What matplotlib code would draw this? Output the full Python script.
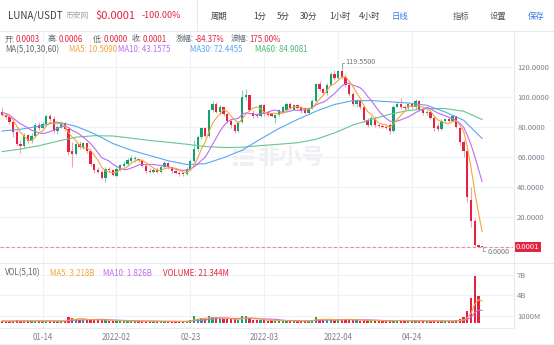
import numpy as np
import pandas as pd
import matplotlib
matplotlib.use("Agg")
import matplotlib.pyplot as plt
from matplotlib.patches import Rectangle, FancyBboxPatch

plt.rcParams['font.family'] = ['Noto Sans CJK SC', 'DejaVu Sans']

W, H = 554, 345

# ---------------- data ----------------
dates = pd.date_range('2022-01-03', '2022-05-13', freq='D')

opens = [90.0, 88.0, 86.5, 83.0, 76.5, 68.5, 67.0, 74.5, 70.5, 74.0,
         81.0, 79.5, 82.0, 87.0, 85.5, 77.0, 80.0, 82.5, 78.5, 64.0,
         62.0, 68.5, 66.5, 69.0, 64.0, 55.0, 51.5, 50.0, 46.0, 52.0,
         51.0, 47.5, 51.5, 54.0, 55.0, 57.5, 58.5, 58.5, 58.0, 54.0,
         50.5, 50.0, 51.5, 50.0, 53.5, 56.0, 53.0, 50.5, 49.5, 49.0,
         48.5, 52.0, 57.5, 65.5, 73.0, 79.0, 74.0, 91.0, 95.5, 90.0,
         93.0, 88.5, 84.0, 81.0, 77.5, 83.0, 100.0, 101.5, 89.5, 88.0,
         87.0, 94.5, 90.0, 89.0, 86.0, 88.0, 89.5, 91.5, 95.5, 91.5,
         94.5, 93.5, 92.5, 89.5, 92.5, 97.5, 108.5, 105.0, 102.5, 108.0,
         115.5, 112.5, 117.0, 113.5, 108.0, 102.0, 95.0, 97.0, 93.0, 84.5,
         81.5, 86.0, 81.0, 80.5, 80.0, 81.5, 77.0, 93.5, 95.5, 93.0,
         92.5, 95.0, 93.0, 97.0, 91.5, 89.0, 90.0, 86.0, 80.5, 78.5,
         84.0, 85.0, 84.0, 87.0, 79.0, 70.0, 64.0, 31.0, 17.0, 1.0,
         0.0003]
highs = [93.5, 89.0, 87.5, 84.0, 78.0, 71.0, 76.0, 75.5, 76.0, 82.5,
         83.0, 83.5, 88.5, 88.5, 87.0, 81.5, 84.0, 83.0, 79.0, 70.0,
         69.5, 70.5, 70.0, 69.5, 64.5, 56.0, 53.0, 51.5, 53.0, 53.5,
         52.0, 53.0, 55.5, 57.0, 59.0, 61.0, 60.5, 59.5, 58.5, 55.0,
         52.5, 52.5, 53.0, 54.5, 57.5, 56.5, 53.5, 51.0, 50.5, 50.0,
         53.0, 58.5, 71.0, 74.5, 80.0, 80.0, 92.0, 97.0, 96.5, 94.5,
         93.5, 89.0, 85.0, 82.0, 84.0, 104.5, 105.0, 102.0, 91.5, 89.0,
         95.5, 95.5, 90.5, 89.5, 88.5, 92.0, 94.0, 96.5, 96.5, 95.5,
         95.0, 94.0, 93.0, 93.5, 98.5, 109.5, 110.5, 106.0, 109.0, 116.5,
         118.0, 118.0, 119.55, 115.5, 109.0, 103.0, 98.5, 97.5, 94.0, 86.0,
         87.5, 87.0, 82.0, 81.5, 81.0, 82.5, 94.5, 96.5, 99.0, 94.5,
         96.0, 96.0, 98.5, 98.0, 92.5, 91.0, 91.0, 87.0, 82.5, 85.0,
         86.0, 86.5, 88.0, 87.5, 80.0, 71.5, 64.5, 40.0, 19.5, 1.5,
         0.0006]
lows = [87.0, 85.5, 82.0, 73.5, 67.0, 62.5, 66.0, 69.0, 69.5, 73.0,
        78.0, 78.5, 80.5, 84.0, 76.0, 75.5, 79.0, 77.5, 61.0, 53.0,
        61.0, 65.0, 65.5, 62.5, 54.0, 49.5, 49.0, 45.0, 43.5, 50.0,
        47.0, 46.5, 50.5, 53.0, 54.0, 56.5, 56.5, 56.5, 53.0, 49.5,
        49.0, 49.0, 49.5, 49.5, 52.5, 52.0, 49.5, 48.5, 47.5, 47.0,
        48.0, 51.0, 56.5, 64.0, 72.0, 73.0, 73.0, 90.0, 89.0, 88.5,
        87.5, 82.5, 79.5, 76.0, 76.5, 82.5, 98.0, 90.5, 86.0, 86.0,
        86.5, 87.5, 87.5, 86.5, 82.5, 87.0, 89.0, 91.0, 92.0, 91.0,
        92.0, 89.5, 88.5, 88.5, 92.0, 96.5, 104.0, 101.0, 101.0, 107.0,
        111.5, 111.5, 112.0, 106.5, 100.5, 94.0, 93.0, 92.0, 83.5, 80.0,
        80.5, 80.0, 79.5, 79.0, 78.5, 75.5, 76.5, 93.0, 92.0, 91.5,
        91.5, 92.5, 92.0, 90.5, 88.0, 88.0, 85.0, 77.0, 77.5, 78.0,
        83.0, 83.0, 83.0, 79.0, 68.0, 60.0, 30.0, 13.5, 0.8, 0.0,
        0.0]
closes = [88.0, 86.5, 83.0, 76.5, 68.5, 67.0, 74.5, 70.5, 74.0, 81.0,
          79.5, 82.0, 87.0, 85.5, 77.0, 80.0, 82.5, 78.5, 63.5, 62.0,
          68.5, 66.5, 69.0, 64.0, 55.0, 51.0, 50.0, 46.0, 52.0, 51.0,
          48.0, 52.0, 54.5, 55.5, 58.0, 59.5, 59.0, 58.0, 54.0, 50.5,
          50.0, 51.5, 50.0, 53.5, 56.0, 53.0, 50.5, 49.5, 48.5, 48.5,
          52.0, 57.5, 65.5, 73.0, 79.0, 74.0, 91.0, 95.5, 90.0, 93.0,
          88.5, 84.0, 81.0, 77.5, 83.0, 100.0, 101.5, 91.5, 87.0, 87.0,
          94.5, 88.5, 88.0, 87.0, 88.0, 91.0, 93.5, 95.5, 92.5, 94.5,
          92.5, 90.5, 89.5, 92.5, 97.5, 108.5, 105.0, 102.5, 108.0, 115.5,
          112.5, 117.0, 113.5, 108.0, 102.0, 95.0, 97.0, 93.0, 84.5, 81.5,
          86.0, 81.0, 80.5, 80.0, 79.5, 77.0, 93.5, 95.5, 93.0, 92.5,
          95.0, 93.5, 97.0, 91.5, 89.5, 90.0, 86.0, 79.5, 78.5, 84.0,
          85.0, 84.0, 87.0, 80.0, 70.0, 64.0, 33.5, 17.0, 1.0, 0.01,
          0.0001]
# volume in billions
volumes = [0.25, 0.2, 0.25, 0.3, 0.35, 0.3, 0.3, 0.25, 0.25, 0.3,
           0.25, 0.2, 0.3, 0.25, 0.3, 0.25, 0.2, 0.25, 0.9, 0.75,
           0.55, 0.45, 0.4, 0.4, 0.5, 0.45, 0.35, 0.4, 0.45, 0.3,
           0.3, 0.3, 0.25, 0.25, 0.3, 0.25, 0.2, 0.2, 0.25, 0.3,
           0.2, 0.2, 0.2, 0.2, 0.25, 0.2, 0.2, 0.15, 0.15, 0.2,
           0.3, 0.45, 1.0, 0.6, 0.65, 0.5, 0.95, 0.85, 0.8, 0.6,
           0.55, 0.5, 0.5, 0.55, 0.45, 0.95, 1.0, 0.65, 0.4, 0.35,
           0.45, 0.4, 0.3, 0.35, 0.3, 0.3, 0.3, 0.3, 0.25, 0.25,
           0.25, 0.25, 0.3, 0.3, 0.4, 0.9, 0.5, 0.35, 0.4, 0.45,
           0.4, 0.4, 0.45, 0.6, 0.45, 0.4, 0.35, 0.3, 0.45, 0.35,
           0.3, 0.3, 0.25, 0.2, 0.25, 0.4, 0.45, 0.3, 0.3, 0.25,
           0.25, 0.25, 0.35, 0.3, 0.25, 0.2, 0.25, 0.35, 0.3, 0.25,
           0.2, 0.25, 0.3, 0.4, 0.5, 0.8, 1.7, 3.6, 6.85, 3.9,
           0.021344]
# closes / volumes of the 9 days before the window (for MA5 / MA10)
prior_closes = [92.0, 95.0, 95.0, 89.0, 86.0, 87.0, 86.0, 88.5, 90.0]
prior_volumes = [0.3, 0.35, 0.3, 0.3, 0.25, 0.25, 0.2, 0.2, 0.25]

# MA30 / MA60 every 5 days
ma_idx = list(range(0, 131, 5))
ma30_vals = [77.3, 78.5, 80.5, 83.3, 80.5, 75.5, 69.0, 64.5, 61.0, 57.5,
             55.0, 55.5, 59.5, 64.5, 72.0, 79.0, 85.0, 90.5, 95.0, 97.6,
             97.6, 96.8, 96.0, 94.5, 90.0, 84.5, 72.4]
ma60_vals = [63.6, 65.3, 67.5, 70.5, 73.2, 74.2, 74.0, 72.6, 71.0, 69.8,
             68.5, 67.0, 66.3, 66.5, 67.6, 68.5, 69.5, 71.8, 76.0, 81.3,
             85.0, 88.5, 91.0, 92.2, 92.3, 90.5, 85.0]

price_ticks = [0, 20, 40, 60, 80, 100, 120]
price_labels = ['', '20.0000', '40.0000', '60.0000', '80.0000', '100.0000', '120.0000']
vol_ticks = [1, 4, 7]
vol_labels = ['1000M', '4B', '7B']
date_ticks = ['2022-01-14', '2022-02-03', '2022-02-23', '2022-03-15', '2022-04-04', '2022-04-24']
date_labels = ['01-14', '2022-02', '02-23', '2022-03', '2022-04', '04-24']

# ---------------- style ----------------
UP, DOWN = '#15A06D', '#E3233F'
UP_W, DOWN_W = '#8FD3B9', '#F2A1AC'
C_MA5, C_MA10, C_MA30, C_MA60 = '#F9A33B', '#BD6CF0', '#58A7F5', '#66C690'
GRID = '#EEF1F6'
AX_TXT = '#7A828E'
SEP = '#E6EAF0'


def fx(x):
    return x / W


def fy(y):
    return 1 - y / H


fig = plt.figure(figsize=(W / 100, H / 100), dpi=100, facecolor='white')

# pane geometry in pixels
PL, PR = 0, 513
MT, MB = 31, 263
VB = 327.7

ax = fig.add_axes([fx(PL), fy(MB), fx(PR - PL), (MB - MT) / H])
axv = fig.add_axes([fx(PL), fy(VB), fx(PR - PL), (VB - MB) / H], sharex=ax)

x = np.arange(len(closes))
o, h, l, c = map(np.array, (opens, highs, lows, closes))
v = np.array(volumes)
up = c >= o
body_col = np.where(up, UP, DOWN)
wick_col = np.where(up, UP_W, DOWN_W)

for a in (ax, axv):
    a.set_facecolor('none')
    for s in a.spines.values():
        s.set_visible(False)
    a.tick_params(length=0, labelleft=False, labelbottom=False)
    a.grid(True, color=GRID, lw=0.8, zorder=0)
    a.set_axisbelow(True)

tick_pos = dates.get_indexer(pd.to_datetime(date_ticks))
ax.set_xticks(tick_pos)
ax.set_xlim(-0.542, 138.37)

# main pane
ax.set_ylim(-10.67, 144.0)
ax.set_yticks(price_ticks)
ax.set_yticklabels(price_labels)
ax.yaxis.tick_right()
ax.tick_params(axis='y', labelright=True, labelleft=False, pad=3, labelsize=5.5, labelcolor=AX_TXT)

ax.vlines(x, l, h, colors=wick_col, lw=0.8, zorder=2)
ax.bar(x, np.maximum(np.abs(c - o), 0.4), bottom=np.minimum(o, c), width=0.62,
       color=body_col, linewidth=0, zorder=3)

ma5 = pd.Series(prior_closes + closes).rolling(5).mean().to_numpy()[len(prior_closes):]
ma10 = pd.Series(prior_closes + closes).rolling(10).mean().to_numpy()[len(prior_closes):]
ax.plot(ma_idx, ma60_vals, color=C_MA60, lw=0.8, zorder=4)
ax.plot(ma_idx, ma30_vals, color=C_MA30, lw=0.8, zorder=4)
ax.plot(x, ma10, color=C_MA10, lw=0.8, zorder=4)
ax.plot(x, ma5, color=C_MA5, lw=0.8, zorder=4)

# last price dashed line
ax.axhline(closes[-1], color='#EE8A9A', lw=0.8, ls=(0, (3, 2)), zorder=5)

# high / low markers
ih = int(np.argmax(h))
ax.plot([ih, ih, ih + 0.6], [h[ih], h[ih] + 3.0, h[ih] + 3.0], color='#8D949E', lw=0.6, zorder=6)
ax.text(ih + 0.9, h[ih] + 3.6, f'{h[ih]:.4f}', fontsize=5.2, color='#6F7781', va='center', ha='left', zorder=6)
il = len(l) - 1
ax.plot([il + 0.2, il + 0.2, il + 0.8], [l[il] - 0.3, l[il] - 3.0, l[il] - 3.0], color='#8D949E', lw=0.6, zorder=6)
ax.text(il + 1.4, l[il] - 3.4, f'{l[il]:.4f}', fontsize=5.2, color='#6F7781', va='center', ha='left', zorder=6)

# watermark
WM = '#EEF0F4'
ax.text(fx(258), fy(157), '非小号', transform=fig.transFigure, fontsize=16, color=WM,
        ha='left', va='center', zorder=1, fontweight='bold')
for yy in [151, 157.5, 164]:
    ax.add_patch(FancyBboxPatch((fx(233), fy(yy + 2)), fx(5), 4 / H, boxstyle='round,pad=0,rounding_size=0.003',
                                transform=fig.transFigure, color=WM, lw=0, zorder=1))
    ax.add_patch(FancyBboxPatch((fx(240), fy(yy + 2)), fx(14), 4 / H, boxstyle='round,pad=0,rounding_size=0.003',
                                transform=fig.transFigure, color=WM, lw=0, zorder=1))

# volume pane
axv.set_ylim(-0.72, 8.76)
axv.set_yticks(vol_ticks)
axv.set_yticklabels(vol_labels)
axv.yaxis.tick_right()
axv.tick_params(axis='y', labelright=True, labelleft=False, pad=3, labelsize=5.5, labelcolor=AX_TXT)
axv.tick_params(axis='x', labelbottom=True, pad=3.5, labelsize=5.7, labelcolor=AX_TXT)
axv.set_xticks(tick_pos)
axv.set_xticklabels(date_labels)
axv.bar(x, v, width=0.62, color=body_col, linewidth=0, zorder=3)
vma5 = pd.Series(prior_volumes + volumes).rolling(5).mean().to_numpy()[len(prior_volumes):]
vma10 = pd.Series(prior_volumes + volumes).rolling(10).mean().to_numpy()[len(prior_volumes):]
axv.plot(x, vma10, color=C_MA10, lw=0.8, zorder=4)
axv.plot(x, vma5, color=C_MA5, lw=0.8, zorder=4)


# frame lines
def hline(y, x0=0, x1=W, col=SEP):
    fig.add_artist(plt.Line2D([fx(x0), fx(x1)], [fy(y), fy(y)], color=col, lw=0.8))


def vline(xp, y0, y1, col=SEP):
    fig.add_artist(plt.Line2D([fx(xp), fx(xp)], [fy(y0), fy(y1)], color=col, lw=0.8))


hline(30.5)
hline(MB)
hline(VB, 0, PR + 0.5)
hline(343.5, 0, W, '#F1F3F6')
vline(PR + 0.5, 30.5, VB)
vline(197, 0, 30.5)

# last price tag
fig.add_artist(Rectangle((fx(513.5), fy(252)), fx(27), 10 / H, color=DOWN, lw=0))
fig.text(fx(527), fy(247), '0.0001', color='white', fontsize=5.5, ha='center', va='center')

# toolbar
TXT = '#3A404A'
fig.text(fx(8), fy(16), 'LUNA/USDT', color=TXT, fontsize=7.0, va='center')
fig.text(fx(65), fy(16), '币安网', color='#9CA3AD', fontsize=5.6, va='center')
fig.text(fx(95), fy(16), '$0.0001', color=DOWN, fontsize=8.0, va='center')
fig.text(fx(142), fy(16), '-100.00%', color=DOWN, fontsize=6.5, va='center')
for label, xp, col in [('周期', 211, TXT), ('1分', 253, TXT), ('5分', 277, TXT), ('30分', 300, TXT),
                       ('1小时', 329, TXT), ('4小时', 359, TXT), ('日线', 392, '#3B7BE8'),
                       ('指标', 453, '#555B65'), ('设置', 490, '#555B65'), ('保存', 528, '#3B7BE8')]:
    fig.text(fx(xp), fy(16), label, color=col, fontsize=6.0, va='center')

# info rows: label in grey, value right after it in red
LBL = '#5F6670'
renderer = fig.canvas.get_renderer()
row1 = [('开:', '0.0003', 5), ('高:', '0.0006', 48), ('低:', '0.0000', 93),
        ('收:', '0.0001', 132), ('涨幅:', '-84.37%', 176), ('波幅:', '175.00%', 231)]
for lab, val, xp in row1:
    t = fig.text(fx(xp), fy(39), lab, color=LBL, fontsize=5.7, va='center')
    bb = t.get_window_extent(renderer)
    fig.text(fx(bb.x1 + 0.3), fy(39), val, color=DOWN, fontsize=5.7, va='center')

fig.text(fx(5), fy(50), 'MA(5,10,30,60)', color=LBL, fontsize=5.7, va='center')
fig.text(fx(69), fy(50), 'MA5: 10.5090', color=C_MA5, fontsize=5.7, va='center')
fig.text(fx(118), fy(50), 'MA10: 43.1575', color=C_MA10, fontsize=5.7, va='center')
fig.text(fx(190), fy(50), 'MA30: 72.4455', color=C_MA30, fontsize=5.7, va='center')
fig.text(fx(255), fy(50), 'MA60: 84.9081', color='#4DB87A', fontsize=5.7, va='center')

fig.text(fx(5), fy(273), 'VOL(5,10)', color=LBL, fontsize=5.7, va='center')
fig.text(fx(50), fy(273), 'MA5: 3.218B', color=C_MA5, fontsize=5.7, va='center')
fig.text(fx(103), fy(273), 'MA10: 1.826B', color=C_MA10, fontsize=5.7, va='center')
fig.text(fx(163), fy(273), 'VOLUME: 21.344M', color=DOWN, fontsize=5.7, va='center')

fig.savefig('out.png', dpi=100, facecolor='white')
